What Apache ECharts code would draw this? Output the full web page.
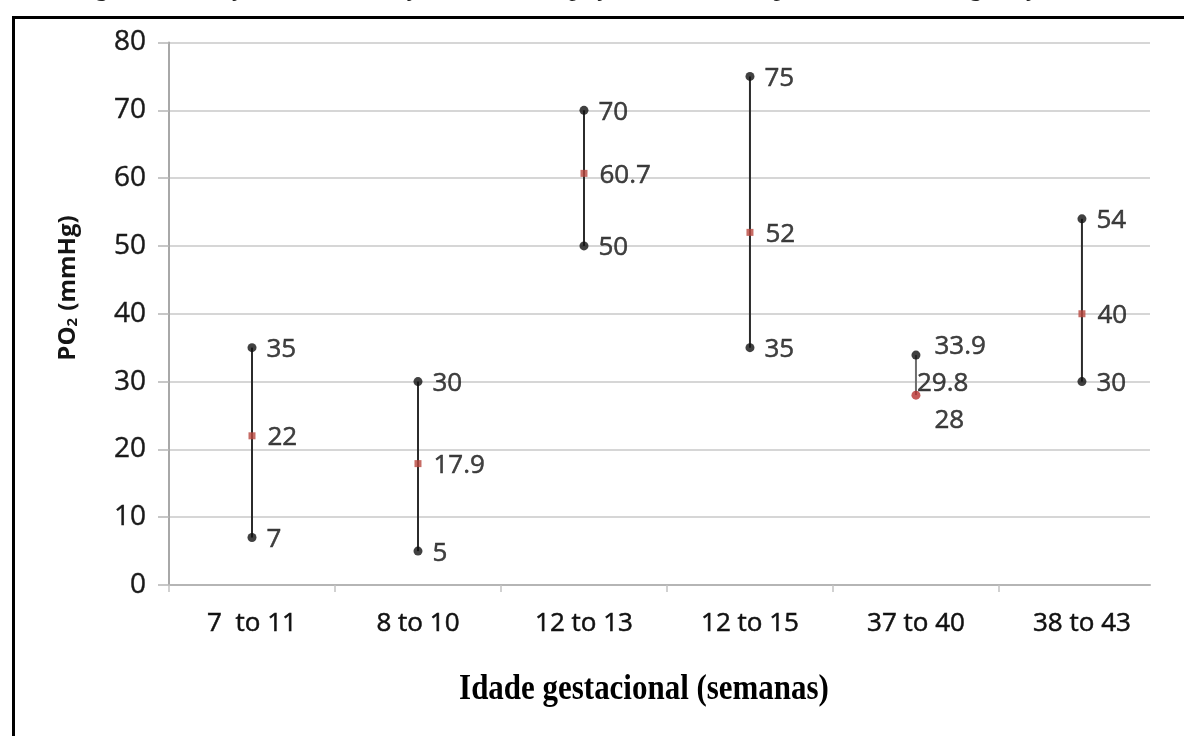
<!DOCTYPE html>
<html>
<head>
<meta charset="utf-8">
<script src="https://cdn.jsdelivr.net/npm/echarts@6/dist/echarts.min.js"></script>
<style>
  html, body { margin: 0; padding: 0; background: #ffffff; }
  #chart { width: 1184px; height: 736px; }
</style>
</head>
<body>
<div id="chart"></div>
<script>
// Gestational age groups (weeks)
const categories = ['7  to 11', '8 to 10', '12 to 13', '12 to 15', '37 to 40', '38 to 43'];
// PO2 (mmHg) per group: upper value, central value, lower value
const maxValues = [35, 30, 70, 75, 33.9, 54];
const meanValues = [22, 17.9, 60.7, 52, 29.8, 40];
const minValues = [7, 5, 50, 35, 28, 30];
// Y axis ticks
const yTicks = [0, 10, 20, 30, 40, 50, 60, 70, 80];

const labelFont = {
  fontFamily: 'Open Sans', fontSize: 26, color: '#111111',
  textBorderColor: '#111111', textBorderWidth: 0.5
};
const pos = i => i + 0.5;   // centre of category band i on the x scale

const chart = echarts.init(document.getElementById('chart'), null, { renderer: 'canvas' });

const rangeData = categories.map((c, i) => [pos(i), minValues[i], maxValues[i]]);

const maxData = categories.map((c, i) => {
  const item = { value: [pos(i), maxValues[i]] };
  if (i === 4) item.label = { offset: [4, -9] };
  return item;
});
const minData = categories.map((c, i) => {
  const item = { value: [pos(i), minValues[i]] };
  if (i === 4) {
    item.itemStyle = { color: '#b8312f' };
    item.label = { offset: [4, 25] };
  }
  return item;
});
const meanData = categories.map((c, i) => {
  const item = { value: [pos(i), meanValues[i]] };
  if (i === 4) {
    item.symbolSize = 0;
    item.label = { distance: 1, offset: [0, 1] };
  }
  return item;
});

const option = {
  backgroundColor: '#ffffff',
  animation: false,
  grid: { left: 169, right: 34, top: 42.5, bottom: 151, containLabel: false },
  xAxis: {
    type: 'value',
    min: 0,
    max: 5.91,
    axisLine: { show: true, lineStyle: { color: '#b5b5b5', width: 2 } },
    axisTick: {
      show: true,
      length: 7,
      customValues: categories.map((c, i) => i),
      lineStyle: { color: '#c2c2c2', width: 1.5 }
    },
    axisLabel: {
      show: true,
      customValues: categories.map((c, i) => pos(i)),
      formatter: v => categories[Math.floor(v)],
      margin: 26,
      ...labelFont
    },
    splitLine: { show: false }
  },
  yAxis: {
    type: 'value',
    min: yTicks[0],
    max: yTicks[yTicks.length - 1],
    interval: 10,
    axisLine: { show: true, lineStyle: { color: '#a8a8a8', width: 2 } },
    axisTick: { show: true, inside: false, length: 11, lineStyle: { color: '#b5b5b5', width: 1.5 } },
    axisLabel: {
      margin: 23, fontFamily: 'Open Sans', fontSize: 28, color: '#1a1a1a',
      textBorderColor: '#1a1a1a', textBorderWidth: 0.4
    },
    splitLine: { show: true, lineStyle: { color: '#d6d6d6', width: 2 } }
  },
  graphic: [
    {
      type: 'rect',
      left: 11, top: 15,
      shape: { width: 1300, height: 900 },
      style: { fill: 'none', stroke: '#000000', lineWidth: 3 },
      silent: true
    },
    {
      type: 'text',
      x: 566, y: 2,
      style: {
        text: 'Figura 4. Variação da concentração de O2 no espaço interviloso da placenta durante a gestação',
        fontFamily: 'Liberation Serif',
        fontSize: 26,
        fill: '#222222',
        align: 'center',
        verticalAlign: 'bottom'
      },
      silent: true
    },
    {
      // y axis title, rotated
      type: 'text',
      x: 68, y: 288,
      rotation: Math.PI / 2,
      style: {
        text: 'PO{sub|2} (mmHg)',
        fontFamily: 'Open Sans',
        fontWeight: 'bold',
        fontSize: 24,
        fill: '#151515',
        align: 'center',
        verticalAlign: 'middle',
        rich: {
          sub: { fontFamily: 'Open Sans', fontWeight: 'bold', fontSize: 15, fill: '#151515', padding: [10, 1, 0, 0] }
        }
      },
      silent: true
    },
    {
      type: 'text',
      x: 644, y: 690,
      scaleX: 0.86,
      style: {
        text: 'Idade gestacional (semanas)',
        fontFamily: 'Liberation Serif',
        fontWeight: 'bold',
        fontSize: 36,
        fill: '#000000',
        align: 'center',
        verticalAlign: 'middle'
      },
      silent: true
    }
  ],
  series: [
    {
      type: 'custom',
      name: 'range',
      data: rangeData,
      encode: { x: 0, y: [1, 2] },
      z: 2,
      renderItem: (params, api) => {
        const x = api.value(0);
        const lo = api.coord([x, api.value(1)]);
        const hi = api.coord([x, api.value(2)]);
        const light = params.dataIndex === 4;
        return {
          type: 'line',
          shape: { x1: lo[0], y1: lo[1], x2: hi[0], y2: hi[1] },
          style: { stroke: light ? '#6e6e6e' : '#2b2b2b', lineWidth: 2 }
        };
      }
    },
    {
      type: 'scatter',
      name: 'max',
      data: maxData,
      symbol: 'circle',
      symbolSize: 9,
      z: 4,
      itemStyle: { color: '#111111' },
      label: { show: true, position: 'right', distance: 10, offset: [0, 2], formatter: p => String(p.value[1]), ...labelFont }
    },
    {
      type: 'scatter',
      name: 'min',
      data: minData,
      symbol: 'circle',
      symbolSize: 9,
      z: 4,
      itemStyle: { color: '#111111' },
      label: { show: true, position: 'right', distance: 10, offset: [0, 2], formatter: p => String(p.value[1]), ...labelFont }
    },
    {
      type: 'scatter',
      name: 'mean',
      data: meanData,
      symbol: 'rect',
      symbolSize: 7,
      z: 5,
      itemStyle: { color: '#b9473f' },
      label: { show: true, position: 'right', distance: 12, offset: [0, 2], formatter: p => String(p.value[1]), ...labelFont }
    }
  ]
};

chart.setOption(option);
</script>
</body>
</html>
